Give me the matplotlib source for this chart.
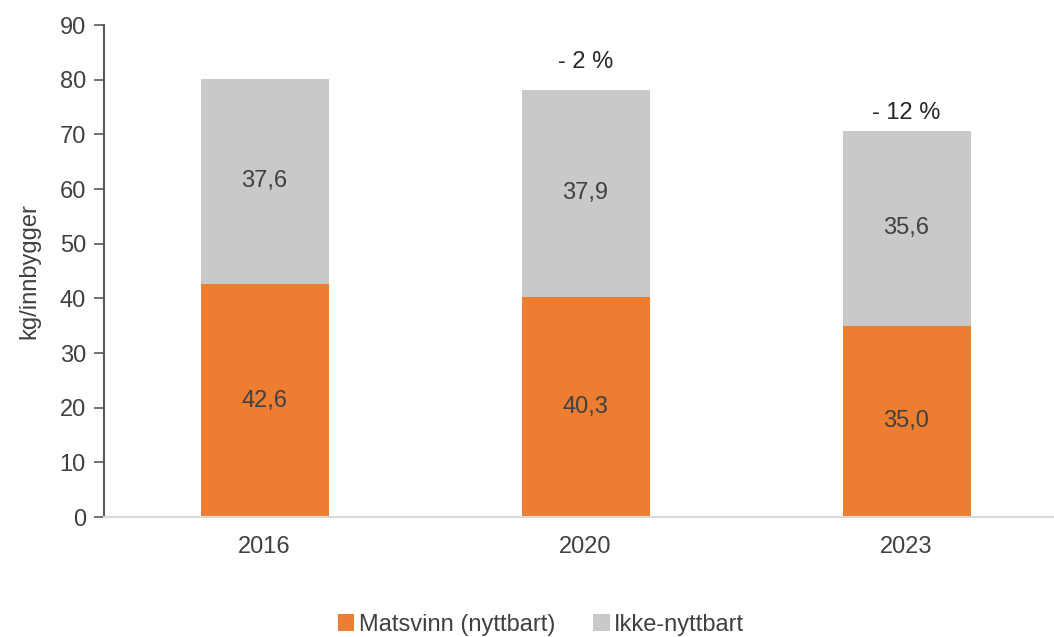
import numpy as np
import matplotlib.pyplot as plt

years = ["2016", "2020", "2023"]
matsvinn = [42.6, 40.3, 35.0]
ikke_nyttbart = [37.6, 37.9, 35.6]
change_labels = ["", "- 2 %", "- 12 %"]

plt.rcParams['font.family'] = ['Liberation Sans', 'DejaVu Sans']

fig = plt.figure(figsize=(10.54, 6.37), dpi=100)
ax = fig.add_axes([104 / 1054, 120 / 637, 963 / 1054, 492 / 637])

x = np.arange(len(years))
w = 128 / 321
orange = '#ed7d31'
grey = '#c9c9c9'
fs = 17

b1 = ax.bar(x, matsvinn, width=w, color=orange, label='Matsvinn (nyttbart)')
b2 = ax.bar(x, ikke_nyttbart, width=w, bottom=matsvinn, color=grey, label='Ikke-nyttbart')

for i in range(len(years)):
    ax.text(x[i], matsvinn[i] / 2, f"{matsvinn[i]:.1f}".replace('.', ','),
            ha='center', va='center', fontsize=fs, color='#404040')
    ax.text(x[i], matsvinn[i] + ikke_nyttbart[i] / 2, f"{ikke_nyttbart[i]:.1f}".replace('.', ','),
            ha='center', va='center', fontsize=fs, color='#404040')

offsets = [0, 28, 18]
for i, lab in enumerate(change_labels):
    if lab:
        ax.annotate(lab, (x[i], matsvinn[i] + ikke_nyttbart[i]), xytext=(0, offsets[i]),
                    textcoords='offset pixels', ha='center', va='center',
                    fontsize=fs, color='#262626')

ax.set_xlim(-0.5, 2.5)
ax.set_ylim(0, 90)
ax.set_yticks(range(0, 91, 10))
ax.set_xticks(x)
ax.set_xticklabels(years)
ax.tick_params(axis='y', labelsize=fs, length=7, width=1.2, color='#595959', pad=6)
ax.tick_params(axis='x', labelsize=fs, length=0, pad=14)
for lab in ax.get_yticklabels() + ax.get_xticklabels():
    lab.set_color('#404040')
ax.set_ylabel('kg/innbygger', fontsize=fs, color='#404040', labelpad=14)

ax.spines['top'].set_visible(False)
ax.spines['right'].set_visible(False)
ax.spines['left'].set_color('#595959')
ax.spines['left'].set_linewidth(1.5)
ax.spines['bottom'].set_color('#d9d9d9')
ax.spines['bottom'].set_linewidth(1.5)

fig.legend(handles=[b1, b2], loc='center', bbox_to_anchor=(541 / 1054, 1 - 625 / 637),
           ncol=2, frameon=False, fontsize=fs, handlelength=0.7, handleheight=0.7,
           handletextpad=0.2, columnspacing=1.6, labelcolor='#404040')

fig.savefig('out.png', dpi=100)
